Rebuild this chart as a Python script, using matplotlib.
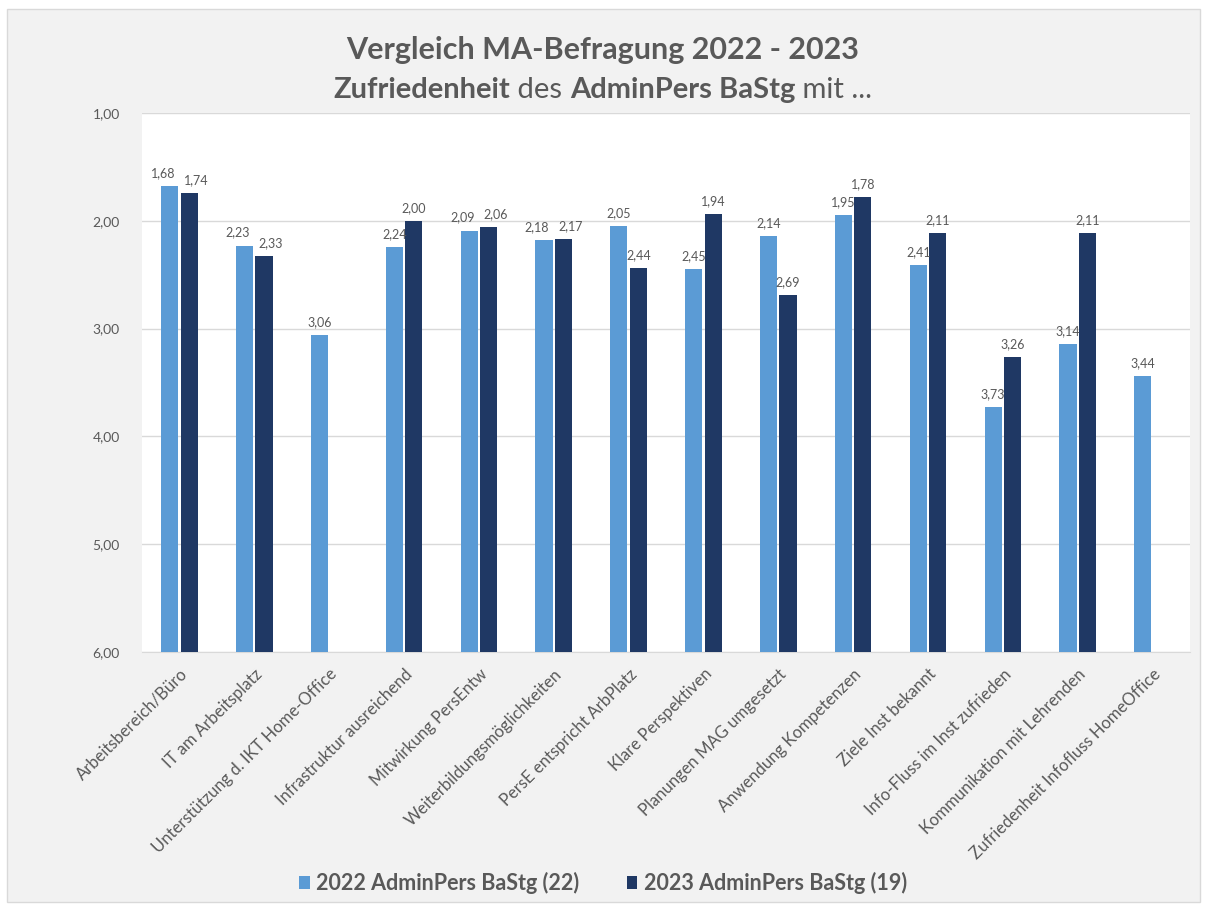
import numpy as np
import matplotlib.pyplot as plt
from matplotlib.patches import Rectangle
from matplotlib.ticker import FuncFormatter

plt.rcParams['font.family'] = ['Lato', 'DejaVu Sans']

# Mittelwerte je Frage (1 = sehr zufrieden, 6 = gar nicht zufrieden)
kategorien = [
    "Arbeitsbereich/Büro", "IT am Arbeitsplatz", "Unterstützung d. IKT Home-Office",
    "Infrastruktur ausreichend", "Mitwirkung PersEntw", "Weiterbildungsmöglichkeiten",
    "PersE entspricht ArbPlatz", "Klare Perspektiven", "Planungen MAG umgesetzt",
    "Anwendung Kompetenzen", "Ziele Inst bekannt", "Info-Fluss im Inst zufrieden",
    "Kommunikation mit Lehrenden", "Zufriedenheit Infofluss HomeOffice",
]
werte_2022 = [1.68, 2.23, 3.06, 2.24, 2.09, 2.18, 2.05, 2.45, 2.14, 1.95, 2.41, 3.73, 3.14, 3.44]
werte_2023 = [1.74, 2.33, None, 2.00, 2.06, 2.17, 2.44, 1.94, 2.69, 1.78, 2.11, 3.26, 2.11, None]
serien = ["2022 AdminPers BaStg (22)", "2023 AdminPers BaStg (19)"]
farben = ["#5b9bd5", "#1f3864"]

grau = "#595959"

fig = plt.figure(figsize=(12.06, 9.06), dpi=100, facecolor="white")
fig.patches.append(Rectangle((7 / 1206, 4 / 906), 1193 / 1206, 893 / 906,
                             transform=fig.transFigure, facecolor="#f2f2f2",
                             edgecolor="#d9d9d9", linewidth=1, zorder=-10))
ax = fig.add_axes([142 / 1206, 1 - 652 / 906, 1048 / 1206, 539 / 906])
ax.set_facecolor("white")

x = np.arange(len(kategorien))
breite = 0.23
versatz = [-0.13, 0.13]
boden = 6.0

for i, (werte, dx, farbe, name) in enumerate(zip([werte_2022, werte_2023], versatz, farben, serien)):
    andere = [werte_2023, werte_2022][i]
    for xi, v, w in zip(x, werte, andere):
        if v is None:
            continue
        ax.bar(xi + dx, v - boden, bottom=boden, width=breite, color=farbe,
               label=name if xi == 0 else None, zorder=3)
        # eng beieinander liegende Beschriftungen etwas auseinanderschieben
        schub = 0
        if w is not None and abs(v - w) < 0.12:
            schub = -5 if i == 0 else 5
        ax.annotate(f"{v:.2f}".replace(".", ","), (xi + dx, v), xytext=(schub, 5),
                    textcoords="offset points", ha="center", va="bottom",
                    fontsize=9, color=grau, zorder=4)

ax.set_ylim(6, 1)
ax.set_xlim(-0.5, len(kategorien) - 0.5)
ax.set_yticks([1, 2, 3, 4, 5, 6])
ax.yaxis.set_major_formatter(FuncFormatter(lambda v, p: f"{v:.2f}".replace(".", ",")))
ax.grid(axis="y", color="#d9d9d9", linewidth=1, zorder=0)
for s in ["top", "left", "right"]:
    ax.spines[s].set_visible(False)
ax.spines["bottom"].set_color("#d9d9d9")
ax.tick_params(axis="y", length=0, pad=16, labelsize=10, labelcolor=grau)
ax.tick_params(axis="x", length=0, pad=10, labelsize=12, labelcolor=grau)
ax.set_xticks(x)
ax.set_xticklabels(kategorien, rotation=45, ha="right", rotation_mode="anchor")

leg = ax.legend(loc="center", bbox_to_anchor=(0.5, 1 - 883 / 906), bbox_transform=fig.transFigure,
                ncol=2, frameon=False, prop={"size": 15.5, "weight": "bold"}, labelcolor=grau,
                handlelength=0.5, handleheight=0.5, handletextpad=0.3, columnspacing=2.2)

# Titel: zweite Zeile mit gemischter Schriftstärke
fig.text(0.5, 1 - 50 / 906, "Vergleich MA-Befragung 2022 - 2023", ha="center", va="center",
         fontsize=22, fontweight="bold", color=grau)
teile = [("Zufriedenheit", "bold"), (" des ", "normal"), ("AdminPers BaStg", "bold"), (" mit ...", "normal")]
texte = [fig.text(0, 1 - 90 / 906, t, ha="left", va="center", fontsize=21,
                  fontweight=w, color=grau) for t, w in teile]
fig.canvas.draw()
r = fig.canvas.get_renderer()
breiten = [t.get_window_extent(r).width for t in texte]
links = (1206 - sum(breiten)) / 2
for t, b in zip(texte, breiten):
    t.set_x(links / 1206)
    links += b

fig.savefig("out.png", dpi=100, facecolor="white")
